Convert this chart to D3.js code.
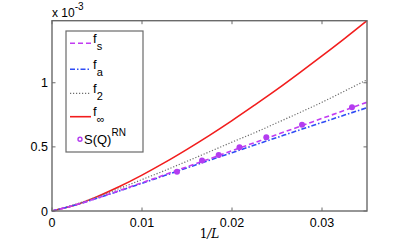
<!DOCTYPE html>
<html>
<head>
<meta charset="utf-8">
<script src="https://cdn.jsdelivr.net/npm/d3@7"></script>
<style>
  body { margin: 0; background: #fff; }
  svg { font-family: "Liberation Sans", Arial, sans-serif; }
</style>
</head>
<body>
<div id="container"></div>
<script>

// Data (y values in units of 1e-3)
const invL = [0, 0.0025, 0.005, 0.0075, 0.01, 0.0125, 0.015, 0.0175, 0.02, 0.0225, 0.025, 0.0275, 0.03, 0.0325, 0.035];
const fS   = [0, 0.045, 0.100, 0.160, 0.220, 0.282, 0.345, 0.407, 0.470, 0.533, 0.596, 0.659, 0.722, 0.785, 0.848];
const fA   = [0, 0.045, 0.099, 0.157, 0.216, 0.276, 0.336, 0.396, 0.455, 0.514, 0.573, 0.632, 0.690, 0.748, 0.805];
const f2   = [0, 0.050, 0.110, 0.176, 0.245, 0.315, 0.388, 0.462, 0.537, 0.610, 0.688, 0.767, 0.848, 0.935, 1.023];
const fInf = [0, 0.044, 0.112, 0.191, 0.280, 0.377, 0.481, 0.590, 0.705, 0.825, 0.948, 1.077, 1.209, 1.344, 1.484];

const rnX = [0.01389, 0.01667, 0.01852, 0.02083, 0.02381, 0.02778, 0.03333];
const rnY = [0.307, 0.393, 0.4375, 0.498, 0.576, 0.672, 0.810];

const xTicks = [0, 0.01, 0.02, 0.03];
const yTicks = [0, 0.5, 1];

const width = 399;
const height = 247;

const marginLeft = 52;
const marginRight = 32;
const marginTop = 20.7;
const marginBottom = 36;

const x = d3.scaleLinear()
    .domain([0, 0.035])
    .range([marginLeft, width - marginRight]);

const y = d3.scaleLinear()
    .domain([0, 1.484])
    .range([height - marginBottom, marginTop]);

const svg = d3.create("svg")
    .attr("width", width)
    .attr("height", height);

document.getElementById("container").append(svg.node());

// curves
const series = [
  { name: "s",   vals: fS,   color: "#c23cf2", dash: "5,3",        width: 1.6 },
  { name: "a",   vals: fA,   color: "#2f4cf5", dash: "5,2,1.5,2",  width: 1.6 },
  { name: "2",   vals: f2,   color: "#6e6e6e", dash: "1.2,1.8",    width: 1.2 },
  { name: "inf", vals: fInf, color: "#f21d1d", dash: null,         width: 1.6 }
];

const line = d3.line()
    .x(d => x(d[0]))
    .y(d => y(d[1]))
    .curve(d3.curveMonotoneX);

// draw order: red under? keep dashed on top
for (const s of [series[3], series[2], series[1], series[0]]) {
  svg.append("path")
      .datum(invL.map((v, i) => [v, s.vals[i]]))
      .attr("fill", "none")
      .attr("stroke", s.color)
      .attr("stroke-width", s.width)
      .attr("stroke-dasharray", s.dash)
      .attr("d", line);
}

// S(Q)^RN points
svg.append("g")
  .selectAll("circle")
  .data(rnX.map((v, i) => [v, rnY[i]]))
  .join("circle")
    .attr("cx", d => x(d[0]))
    .attr("cy", d => y(d[1]))
    .attr("r", 3)
    .attr("fill", "#b43cf0");

// axes box with inward ticks
const axisColor = "#6a6a6a";
const x0 = x(0), x1 = x(0.035), y0 = y(0), y1 = y(1.484);
svg.append("rect")
    .attr("x", x0).attr("y", y1)
    .attr("width", x1 - x0).attr("height", y0 - y1)
    .attr("fill", "none")
    .attr("stroke", axisColor)
    .attr("stroke-width", 1.4);

const tickLen = 3.5;
const ticks = svg.append("g").attr("stroke", axisColor).attr("stroke-width", 1);
for (const t of xTicks) {
  ticks.append("line").attr("x1", x(t)).attr("x2", x(t)).attr("y1", y0).attr("y2", y0 - tickLen);
  ticks.append("line").attr("x1", x(t)).attr("x2", x(t)).attr("y1", y1).attr("y2", y1 + tickLen);
}
for (const t of yTicks) {
  ticks.append("line").attr("x1", x0).attr("x2", x0 + tickLen).attr("y1", y(t)).attr("y2", y(t));
  ticks.append("line").attr("x1", x1).attr("x2", x1 - tickLen).attr("y1", y(t)).attr("y2", y(t));
}

// tick labels
svg.append("g")
  .selectAll("text")
  .data(xTicks)
  .join("text")
    .attr("x", d => x(d))
    .attr("y", y0 + 16)
    .attr("text-anchor", "middle")
    .attr("font-size", 12.5)
    .text(d => d === 0 ? "0" : d3.format(".2f")(d));

svg.append("g")
  .selectAll("text")
  .data(yTicks)
  .join("text")
    .attr("x", x0 - 4)
    .attr("y", d => y(d) + 4.5)
    .attr("text-anchor", "end")
    .attr("font-size", 12.5)
    .text(d => d);

// exponent label
const expo = svg.append("text")
    .attr("x", x0)
    .attr("y", 17)
    .attr("font-size", 12);
expo.append("tspan").text("x 10");
expo.append("tspan").attr("font-size", 10).attr("dy", -7).text("-3");

// x axis label
const xl = svg.append("text")
    .attr("x", (x0 + x1) / 2)
    .attr("y", 238)
    .attr("text-anchor", "middle")
    .attr("font-family", "'DejaVu Serif', serif")
    .attr("font-size", 12);
xl.append("tspan").text("1");
xl.append("tspan").attr("font-style", "italic").text("/L");

// legend
const lg = svg.append("g");
lg.append("rect")
    .attr("x", 66).attr("y", 31)
    .attr("width", 77).attr("height", 121)
    .attr("fill", "#fff")
    .attr("stroke", axisColor)
    .attr("stroke-width", 1.2);

const rowY = [43.3, 69.3, 93.3, 116.7];
series.forEach((s, i) => {
  lg.append("line")
      .attr("x1", 70).attr("x2", 91)
      .attr("y1", rowY[i]).attr("y2", rowY[i])
      .attr("stroke", s.color)
      .attr("stroke-width", s.width)
      .attr("stroke-dasharray", s.dash);
  const t = lg.append("text")
      .attr("x", 93)
      .attr("y", rowY[i] - 0.5)
      .attr("font-size", 13);
  t.append("tspan").text("f");
  t.append("tspan")
      .attr("font-size", 11)
      .attr("dy", 7)
      .text(s.name === "inf" ? "\u221E" : s.name);
});

lg.append("circle")
    .attr("cx", 80).attr("cy", 139.3)
    .attr("r", 2)
    .attr("fill", "none")
    .attr("stroke", "#b43cf0")
    .attr("stroke-width", 1.4);
const sq = lg.append("text")
    .attr("x", 84)
    .attr("y", 144)
    .attr("font-size", 13);
sq.append("tspan").text("S(Q)");
sq.append("tspan").attr("font-size", 10).attr("dy", -8).text("RN");

</script>
</body>
</html>
